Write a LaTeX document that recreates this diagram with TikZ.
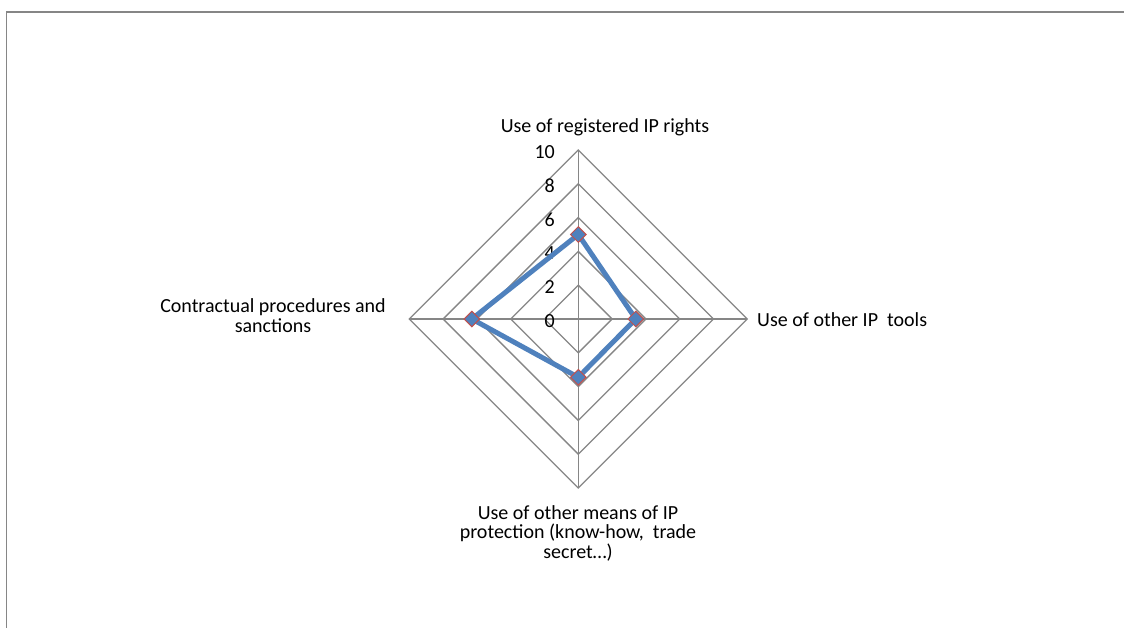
\documentclass[tikz,border=0pt]{standalone}
\usepackage{fontspec}
\setmainfont{Carlito}
\usetikzlibrary{shapes.geometric}
\definecolor{gridgray}{HTML}{868686}
\definecolor{seriesblue}{HTML}{4F81BD}
\definecolor{markerred}{HTML}{C0504D}
\begin{document}
\begin{tikzpicture}[x=1pt, y=-1pt,
    every node/.style={font=\fontsize{20}{19.5}\selectfont, inner sep=0pt},
    gridline/.style={draw=gridgray, line width=1.3pt},
    dataline/.style={draw=seriesblue, line width=5pt, line join=round},
    datapt/.style={diamond, draw=markerred, fill=seriesblue, line width=1pt, minimum width=16pt, minimum height=16pt},
    ticklabel/.style={anchor=east},
    axislabel/.style={align=center, anchor=base}]

    \useasboundingbox (0,0) rectangle (1124,628);
    \draw [gridline] (1124,12) -- (6.5,12) -- (6.5,628);

    \begin{scope}[shift={(578.3,319)}, x=16.9pt, y=16.9pt]
        % rings and spokes
        \foreach \r in {2,4,...,10}
            \draw [gridline] (0,\r) -- (\r,0) -- (0,-\r) -- (-\r,0) -- cycle;
        \draw [gridline] (0,10) -- (0,-10);
        \draw [gridline] (-10,0) -- (10,0);
        \foreach \v in {0,2,...,10}
            \node [ticklabel] (t\v) at (-1.38,\v-0.12) {\v};

        % series
        \coordinate (ipr) at (0,5);
        \coordinate (tools) at (3.4,0);
        \coordinate (means) at (0,-3.45);
        \coordinate (contract) at (-6.3,0);
        \draw [dataline] (ipr) -- (tools) -- (means) -- (contract) -- cycle;
        \foreach \p in {ipr,tools,means,contract}
            \node [datapt] at (\p) {};
    \end{scope}

    % category labels (base = last line)
    \node [axislabel] (Lipr) at (605,132.7) {Use of registered IP rights};
    \node [anchor=base west] (Ltools) at (757,326.7) {Use of other IP\ \ tools};
    \node [axislabel] (Lmeans) at (578,558.3) {Use of other means of IP\\protection (know-how,\ \ trade\\secret\ldots)};
    \node [axislabel] (Lcontract) at (273,332.2) {Contractual procedures and\\sanctions};

\end{tikzpicture}
\end{document}
